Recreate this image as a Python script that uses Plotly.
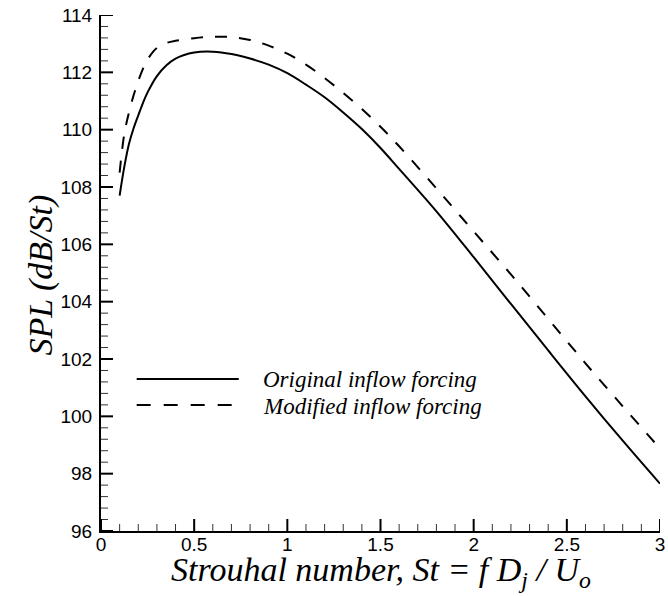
import plotly.graph_objects as go

# Far-field SPL spectra versus Strouhal number
st_original = [0.1, 0.125, 0.15, 0.175, 0.2, 0.225, 0.25, 0.3, 0.35, 0.4, 0.5, 0.6, 0.7,
               0.8, 0.9, 1.0, 1.1, 1.2, 1.3, 1.4, 1.5, 1.6, 1.8, 2.0, 2.2, 2.4, 2.6, 2.8, 3.0]
spl_original = [107.7, 108.7, 109.5, 110.05, 110.5, 110.93, 111.3, 111.87, 112.24, 112.48,
                112.69, 112.72, 112.64, 112.48, 112.27, 111.97, 111.57, 111.13, 110.6,
                110.02, 109.36, 108.63, 107.15, 105.55, 103.92, 102.3, 100.7, 99.15, 97.65]

st_modified = [0.1, 0.125, 0.15, 0.175, 0.2, 0.225, 0.25, 0.3, 0.35, 0.4, 0.5, 0.6, 0.7,
               0.8, 0.9, 1.0, 1.1, 1.2, 1.3, 1.4, 1.5, 1.6, 1.8, 2.0, 2.2, 2.4, 2.6, 2.8, 3.0]
spl_modified = [108.5, 109.85, 110.6, 111.2, 111.7, 112.12, 112.45, 112.85, 113.02, 113.1,
                113.19, 113.24, 113.23, 113.13, 112.93, 112.65, 112.27, 111.8, 111.28,
                110.72, 110.1, 109.42, 107.95, 106.45, 104.95, 103.4, 101.85, 100.35, 98.88]

series_names = ["Original inflow forcing", "Modified inflow forcing"]

x_title = "Strouhal number, St = f D<sub>j</sub> / U<sub>o</sub>"
y_title = "SPL (dB/St)"

x_range = [0, 3]
y_range = [96, 114]
x_major = [0, 0.5, 1, 1.5, 2, 2.5, 3]
y_major = [96, 98, 100, 102, 104, 106, 108, 110, 112, 114]
x_minor = [round(0.1 * i, 1) for i in range(31) if i % 5]
y_minor = [round(96 + 0.4 * i, 1) for i in range(46) if i % 5]

W, H = 668, 596
L, R, T, B = 101, 3, 15, 65

serif = "Liberation Serif, Times New Roman, serif"
sans = "Liberation Sans, Arial, sans-serif"

fig = go.Figure()
fig.add_trace(go.Scatter(x=st_original, y=spl_original, mode="lines",
                         line=dict(color="black", width=2, shape="spline", smoothing=1.0),
                         name=series_names[0], showlegend=False))
fig.add_trace(go.Scatter(x=st_modified, y=spl_modified, mode="lines",
                         line=dict(color="black", width=2, dash="12px,12px",
                                   shape="spline", smoothing=1.0),
                         name=series_names[1], showlegend=False))

pw = W - L - R
ph = H - T - B


def px_x(p):
    return (p - L) / pw


def px_y(p):
    return (H - B - p) / ph


# Inward tick marks, sized in pixels and anchored on the axis lines
def x_tick(v, length, width, color):
    fig.add_shape(type="line", xref="x", yref="y", x0=v, x1=v,
                  ysizemode="pixel", yanchor=y_range[0], y0=0, y1=length,
                  line=dict(color=color, width=width))


def y_tick(v, length, width, color):
    fig.add_shape(type="line", xref="x", yref="y", y0=v, y1=v,
                  xsizemode="pixel", xanchor=x_range[0], x0=0, x1=length,
                  line=dict(color=color, width=width))


for v in x_minor:
    x_tick(v, 7, 1, "#333333")
for v in y_minor:
    y_tick(v, 7, 1, "#333333")
for v in x_major:
    x_tick(v, 12, 2, "black")
for v in y_major:
    y_tick(v, 12, 2, "black")

# Legend drawn by hand: long sample lines with italic serif labels
legend_rows = [(379, "solid"), (405, "14px,13px")]
for (yy, dash), label in zip(legend_rows, series_names):
    fig.add_shape(type="line", xref="paper", yref="paper",
                  x0=px_x(137), x1=px_x(240), y0=px_y(yy), y1=px_y(yy),
                  line=dict(color="black", width=2, dash=dash))
    fig.add_annotation(xref="paper", yref="paper", x=px_x(262), y=px_y(yy + 1),
                       xanchor="left", yanchor="middle", showarrow=False,
                       text=label,
                       font=dict(family=serif, size=23, color="black", style="italic"))

# Axis titles
fig.add_annotation(xref="paper", yref="paper", x=0.5, y=px_y(572),
                   xanchor="center", yanchor="middle", showarrow=False,
                   text=x_title,
                   font=dict(family=serif, size=34, color="black", style="italic"))
fig.add_annotation(xref="paper", yref="paper", x=px_x(40), y=px_y(275),
                   xanchor="center", yanchor="middle", showarrow=False,
                   textangle=-90, text=y_title,
                   font=dict(family=serif, size=34, color="black", style="italic"))

axis_common = dict(showline=True, linecolor="black", linewidth=2, mirror=False,
                   ticks="", showgrid=False, zeroline=False,
                   tickfont=dict(family=sans, size=19, color="black"))

fig.update_layout(
    width=W, height=H, margin=dict(l=L, r=R, t=T, b=B, pad=0),
    paper_bgcolor="white", plot_bgcolor="white",
    xaxis=dict(range=x_range, tickmode="array", tickvals=x_major,
               ticktext=[f"{v:g}" for v in x_major], ticklabeloverflow="allow",
               ticklabelstandoff=-5, **axis_common),
    yaxis=dict(range=y_range, tickmode="array", tickvals=y_major,
               ticktext=[f"{v:g}" for v in y_major], ticklabelstandoff=3,
               **axis_common),
)

fig.write_html("out.html")
